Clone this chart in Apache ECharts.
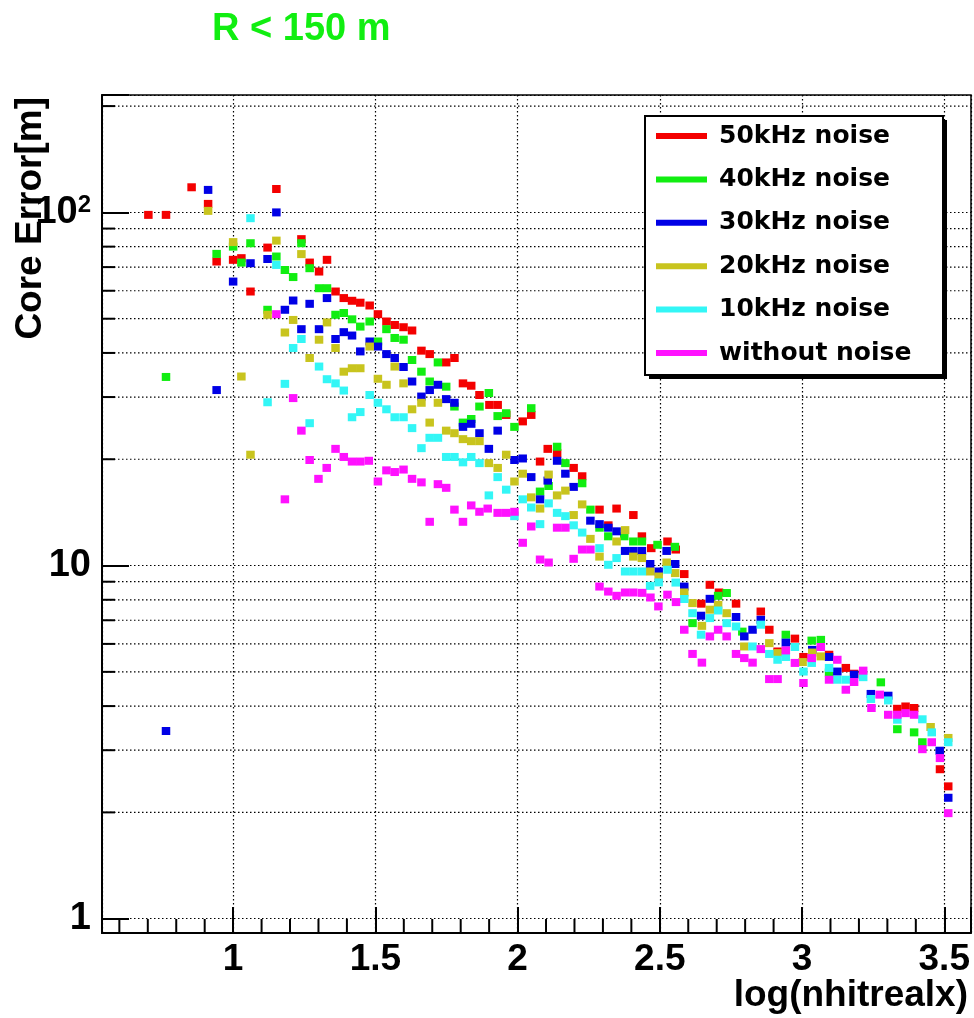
<!DOCTYPE html>
<html><head><meta charset="utf-8">
<script src="https://cdn.jsdelivr.net/npm/echarts@6/dist/echarts.min.js"></script>
<style>html,body{margin:0;padding:0;background:#fff;}#c{width:974px;height:1018px;}</style>
</head><body><div id="c"></div>
<script>
const titleText = 'R < 150 m';
const xAxisTitle = 'log(nhitrealx)';
const yAxisTitle = 'Core Error[m]';
const seriesNames = ['50kHz noise','40kHz noise','30kHz noise','20kHz noise','10kHz noise','without noise'];
const seriesColors = ['#f40000','#11ee11','#0000e6','#c8c41e','#33f6f6','#ff11ff'];

const xTickValues = [1, 1.5, 2, 2.5, 3, 3.5];
const xTickLabels = ['1', '1.5', '2', '2.5', '3', '3.5'];
const xMinorTicks = [0.6,0.7,0.8,0.9,1.1,1.2,1.3,1.4,1.6,1.7,1.8,1.9,2.1,2.2,2.3,2.4,2.6,2.7,2.8,2.9,3.1,3.2,3.3,3.4];
const yTickValues = [1, 10, 100];
const yTickLabels = ['1', '10', '10{sup|2}'];
const yMinorTicks = [2,3,4,5,6,7,8,9,20,30,40,50,60,70,80,90,200];
const X_MIN = 0.539, X_MAX = 3.594, Y_MIN = 0.911, Y_MAX = 215;

const red50 = [[0.702,98.4],[0.764,98.4],[0.854,117.8],[0.912,105.7],[0.942,72.6],[1.000,73.4],[1.029,74.2],[1.061,59.7],[1.121,79.5],[1.152,116.5],[1.240,84.0],[1.269,72.1],[1.302,68.0],[1.330,73.4],[1.360,59.7],[1.389,57.2],[1.418,56.2],[1.447,55.5],[1.480,54.5],[1.509,51.5],[1.539,49.1],[1.568,48.0],[1.599,47.3],[1.629,46.3],[1.662,40.6],[1.691,39.7],[1.749,37.6],[1.778,38.7],[1.808,32.8],[1.837,32.3],[1.866,30.4],[1.901,28.5],[1.930,28.5],[1.960,26.7],[2.018,25.6],[2.048,26.7],[2.079,19.7],[2.106,21.4],[2.139,20.8],[2.197,18.9],[2.227,17.9],[2.288,14.4],[2.319,13.0],[2.348,14.5],[2.407,13.9],[2.437,12.1],[2.470,11.2],[2.527,11.7],[2.556,11.1],[2.586,9.46],[2.646,7.80],[2.676,8.82],[2.708,8.39],[2.768,7.80],[2.855,7.41],[2.885,6.58],[2.914,5.71],[2.975,6.21],[3.005,5.51],[3.095,5.59],[3.154,5.13],[3.183,4.94],[3.335,3.93],[3.364,3.99],[3.394,3.95],[3.485,2.65],[3.514,2.37]];
const green40 = [[0.764,34.2],[0.942,76.3],[1.000,80.0],[1.029,72.1],[1.061,81.8],[1.121,53.0],[1.152,75.0],[1.182,68.7],[1.211,65.6],[1.240,81.8],[1.269,69.5],[1.302,61.0],[1.330,61.0],[1.360,51.3],[1.389,51.9],[1.418,49.8],[1.447,47.5],[1.480,49.1],[1.509,43.1],[1.539,46.7],[1.568,44.1],[1.599,43.6],[1.629,38.2],[1.662,35.4],[1.691,33.2],[1.720,37.6],[1.749,32.1],[1.778,28.2],[1.808,25.4],[1.837,26.0],[1.866,28.2],[1.899,30.8],[1.930,26.5],[1.960,27.0],[1.989,24.7],[2.048,27.9],[2.079,16.2],[2.109,16.8],[2.139,21.7],[2.168,19.5],[2.227,17.1],[2.256,14.4],[2.288,12.8],[2.319,12.1],[2.375,12.1],[2.407,11.7],[2.437,11.7],[2.492,11.45],[2.553,11.3],[2.615,6.87],[2.705,8.21],[2.735,8.36],[2.790,6.50],[2.943,6.37],[3.034,6.13],[3.066,6.16],[3.095,4.98],[3.277,4.67],[3.335,3.44],[3.394,3.37],[3.423,3.16]];
const blue30 = [[0.764,3.40],[0.912,115.8],[0.942,31.4],[1.000,63.7],[1.061,71.8],[1.121,73.8],[1.152,100],[1.182,53.0],[1.211,56.3],[1.240,46.7],[1.269,55.1],[1.302,46.7],[1.330,57.2],[1.360,43.8],[1.389,45.8],[1.418,44.8],[1.447,40.4],[1.480,43.1],[1.509,41.7],[1.539,39.7],[1.568,38.7],[1.599,36.5],[1.629,33.2],[1.662,30.1],[1.691,31.4],[1.720,32.5],[1.749,29.6],[1.778,28.9],[1.808,24.7],[1.837,25.2],[1.866,23.7],[1.899,21.4],[1.930,24.1],[1.989,19.9],[2.018,20.1],[2.048,17.8],[2.079,15.4],[2.106,17.4],[2.139,19.8],[2.168,18.2],[2.197,16.7],[2.256,13.4],[2.288,13.1],[2.319,12.8],[2.348,12.5],[2.378,11.0],[2.407,11.0],[2.437,11.0],[2.466,10.1],[2.496,9.62],[2.524,11.0],[2.554,10.1],[2.586,8.72],[2.645,7.21],[2.676,8.05],[2.768,7.15],[2.797,6.30],[2.826,6.58],[2.855,7.02],[2.943,6.05],[3.036,5.77],[3.095,5.51],[3.124,5.01],[3.183,4.91],[3.242,4.33],[3.303,4.28],[3.484,2.99],[3.514,2.20]];
const yellow20 = [[0.912,101],[1.000,82.4],[1.029,34.3],[1.061,20.6],[1.121,51.3],[1.152,83.2],[1.182,45.7],[1.211,49.6],[1.240,76.2],[1.269,38.7],[1.302,43.6],[1.330,48.8],[1.360,41.3],[1.389,35.4],[1.418,36.2],[1.447,36.2],[1.480,41.7],[1.509,33.8],[1.539,32.5],[1.568,36.6],[1.599,32.8],[1.629,27.7],[1.662,28.9],[1.691,25.4],[1.720,28.9],[1.749,24.1],[1.778,23.7],[1.808,22.8],[1.837,22.5],[1.866,22.5],[1.899,19.5],[1.930,18.9],[1.960,20.6],[1.989,17.3],[2.018,18.2],[2.048,15.6],[2.079,14.5],[2.109,18.1],[2.139,15.8],[2.168,16.3],[2.197,13.9],[2.227,14.9],[2.256,11.9],[2.288,10.6],[2.348,11.7],[2.378,12.6],[2.407,10.6],[2.437,10.5],[2.466,9.62],[2.496,9.31],[2.524,10.2],[2.554,9.52],[2.586,8.39],[2.615,7.83],[2.648,6.75],[2.676,7.50],[2.705,7.74],[2.735,7.33],[2.797,5.90],[2.885,6.03],[2.914,5.65],[3.002,5.33],[3.036,5.67],[3.066,5.53],[3.452,3.49],[3.514,3.25]];
const cyan10 = [[1.061,96.3],[1.121,29.0],[1.152,71.0],[1.182,32.7],[1.211,41.3],[1.240,43.8],[1.269,25.3],[1.302,36.6],[1.330,33.7],[1.360,32.8],[1.389,31.3],[1.418,26.3],[1.447,27.2],[1.480,30.4],[1.509,28.9],[1.539,27.7],[1.568,26.3],[1.599,26.3],[1.629,24.5],[1.662,21.5],[1.691,23.0],[1.720,23.0],[1.749,20.3],[1.778,20.3],[1.808,19.6],[1.837,20.3],[1.866,19.5],[1.899,15.8],[1.930,17.8],[1.960,16.4],[1.989,13.8],[2.018,15.4],[2.048,14.6],[2.079,13.1],[2.109,15.0],[2.139,14.1],[2.168,13.8],[2.197,13.0],[2.227,12.4],[2.288,11.2],[2.319,10.05],[2.348,10.5],[2.378,9.62],[2.407,9.62],[2.437,9.62],[2.466,8.76],[2.496,8.96],[2.527,9.73],[2.556,8.95],[2.586,8.04],[2.615,7.33],[2.645,6.37],[2.676,7.10],[2.705,7.46],[2.735,6.87],[2.768,6.72],[2.826,5.90],[2.855,6.80],[2.885,5.62],[2.914,5.41],[2.943,5.51],[2.975,5.88],[3.005,5.01],[3.034,5.30],[3.095,5.13],[3.124,4.75],[3.154,4.75],[3.215,4.83],[3.242,4.19],[3.303,4.15],[3.335,3.66],[3.423,3.67],[3.456,3.37],[3.514,3.16]];
const magentaNoNoise = [[1.152,51.5],[1.182,15.4],[1.211,29.8],[1.240,24.1],[1.269,19.9],[1.300,17.6],[1.329,18.9],[1.360,21.4],[1.389,20.3],[1.418,19.7],[1.447,19.7],[1.477,19.8],[1.509,17.3],[1.539,18.6],[1.568,18.4],[1.599,18.7],[1.629,17.6],[1.662,17.2],[1.691,13.3],[1.720,17.0],[1.749,16.6],[1.778,14.4],[1.808,13.3],[1.837,14.8],[1.866,14.2],[1.895,14.5],[1.930,14.1],[1.960,14.1],[1.989,14.2],[2.018,11.6],[2.048,12.9],[2.079,10.4],[2.109,10.2],[2.139,12.8],[2.168,12.8],[2.197,10.45],[2.227,11.1],[2.256,11.1],[2.288,8.72],[2.319,8.44],[2.348,8.21],[2.378,8.39],[2.407,8.39],[2.438,8.37],[2.467,8.12],[2.495,7.66],[2.527,8.27],[2.557,7.88],[2.586,6.58],[2.615,5.62],[2.648,5.31],[2.676,6.30],[2.705,6.58],[2.735,6.30],[2.768,5.62],[2.797,5.47],[2.826,5.31],[2.855,5.80],[2.885,4.77],[2.914,4.77],[2.943,5.75],[2.975,5.30],[3.005,4.65],[3.034,5.47],[3.066,5.88],[3.095,4.75],[3.124,5.41],[3.154,4.45],[3.183,4.68],[3.215,5.04],[3.244,3.95],[3.273,4.31],[3.303,3.78],[3.335,3.78],[3.364,3.82],[3.394,3.78],[3.423,3.02],[3.456,3.16],[3.485,2.85],[3.514,1.99]];

const allData = [red50, green40, blue30, yellow20, cyan10, magentaNoNoise];
const FONT = 'Liberation Sans';
const dotted = [1.5, 2.5];

function xLabel(v) {
  for (let i = 0; i < xTickValues.length; i++) if (Math.abs(v - xTickValues[i]) < 1e-6) return xTickLabels[i];
  return '';
}
function yLabel(v) {
  for (let i = 0; i < yTickValues.length; i++) if (Math.abs(Math.log10(v) - Math.log10(yTickValues[i])) < 1e-6) return yTickLabels[i];
  return '';
}

const chart = echarts.init(document.getElementById('c'), null, {renderer: 'canvas'});
const series = allData.map((d, i) => ({
  type: 'scatter', name: seriesNames[i], data: d,
  symbol: 'rect', symbolSize: [8.5, 8],
  itemStyle: {color: seriesColors[i], opacity: 1},
  z: 3, silent: true
}));
series.push({
  type: 'custom', name: 'yMinorGrid', silent: true, z: 1,
  data: yMinorTicks.map(v => [X_MIN, v]),
  renderItem: function (params, api) {
    const cs = params.coordSys;
    const y = api.coord([X_MIN, api.value(1)])[1];
    return {type: 'group', children: [
      {type: 'line', shape: {x1: cs.x, y1: y, x2: cs.x + cs.width, y2: y}, style: {stroke: '#000', lineWidth: 1.2, lineDash: dotted}},
      {type: 'line', shape: {x1: cs.x, y1: y, x2: cs.x + 13, y2: y}, style: {stroke: '#000', lineWidth: 2}}
    ]};
  }
});
series.push({
  type: 'custom', name: 'xMinorTicks', silent: true, z: 1,
  data: xMinorTicks.map(v => [v, Y_MIN]),
  renderItem: function (params, api) {
    const cs = params.coordSys;
    const x = api.coord([api.value(0), Y_MIN])[0];
    const yb = cs.y + cs.height;
    return {type: 'line', shape: {x1: x, y1: yb, x2: x, y2: yb - 14}, style: {stroke: '#000', lineWidth: 2}};
  }
});

chart.setOption({
  animation: false,
  backgroundColor: '#fff',
  textStyle: {fontFamily: FONT},
  title: {
    text: titleText, left: 212, top: 11, padding: 0,
    textStyle: {color: '#11ee11', fontSize: 38, fontWeight: 'bold', fontFamily: FONT}
  },
  grid: {left: 102, right: 3, top: 95, bottom: 85, containLabel: false, outerBoundsMode: 'none', show: true, borderColor: '#000', borderWidth: 1.5, backgroundColor: 'transparent'},
  legend: {
    orient: 'vertical', left: 656, top: 123.5, padding: 0, itemGap: 18.4,
    itemWidth: 51, itemHeight: 6, icon: 'rect', selectedMode: false, z: 10,
    data: seriesNames,
    textStyle: {fontFamily: 'DejaVu Sans', fontWeight: 'bold', fontSize: 25, color: '#000', lineHeight: 25, padding: [0, 0, 0, 7]}
  },
  graphic: [
    {type: 'rect', z: 8, shape: {x: 649, y: 120, width: 298, height: 259}, style: {fill: '#000'}},
    {type: 'rect', z: 9, shape: {x: 645, y: 116, width: 298, height: 259}, style: {fill: '#fff', stroke: '#000', lineWidth: 2}}
  ],
  xAxis: {
    type: 'value', min: X_MIN, max: X_MAX,
    axisLine: {onZero: false, lineStyle: {color: '#000', width: 2}},
    axisTick: {inside: true, length: 26, lineStyle: {color: '#000', width: 2}},
    splitLine: {show: true, lineStyle: {color: '#000', width: 1.2, type: dotted}},
    axisLabel: {formatter: xLabel, fontFamily: FONT, fontWeight: 'bold', fontSize: 37, color: '#000', margin: 8, showMinLabel: true, showMaxLabel: true, hideOverlap: false},
    name: xAxisTitle, nameLocation: 'end', nameGap: -3, nameMoveOverlap: false,
    nameTextStyle: {align: 'right', verticalAlign: 'top', padding: [44, 0, 0, 0], fontFamily: FONT, fontWeight: 'bold', fontSize: 37, color: '#000'}
  },
  yAxis: {
    type: 'log', logBase: 10, min: Y_MIN, max: Y_MAX,
    axisLine: {onZero: false, lineStyle: {color: '#000', width: 2}},
    axisTick: {inside: true, length: 27, lineStyle: {color: '#000', width: 2}},
    splitLine: {show: true, lineStyle: {color: '#000', width: 1.2, type: dotted}},
    axisLabel: {
      formatter: yLabel, fontFamily: FONT, fontWeight: 'bold', fontSize: 38, color: '#000', margin: 11, hideOverlap: false,
      rich: {sup: {fontFamily: FONT, fontWeight: 'bold', fontSize: 24, color: '#000', verticalAlign: 'top'}}
    },
    name: yAxisTitle, nameLocation: 'end', nameRotate: 90, nameGap: -2, nameMoveOverlap: false,
    nameTextStyle: {align: 'right', verticalAlign: 'bottom', padding: [0, 0, 53, 0], fontFamily: FONT, fontWeight: 'bold', fontSize: 37, color: '#000'}
  },
  series: series
});
</script></body></html>
